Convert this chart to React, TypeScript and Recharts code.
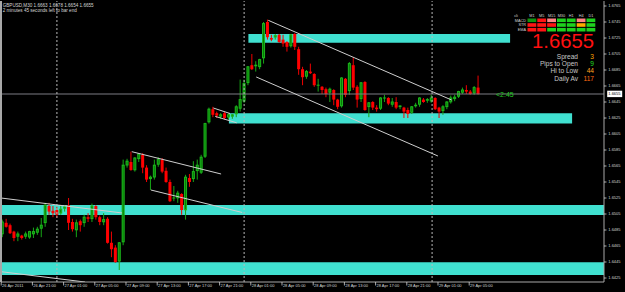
import React from 'react';
import { ComposedChart, Bar, XAxis, YAxis, ReferenceArea, ReferenceLine } from 'recharts';

const symbolTitle = 'GBPUSD,M30  1.6663 1.6678 1.6654 1.6655';
const timerText = '2 minutes 45 seconds left to bar end';
const countdown = '<2:45';

// 30-minute candles, 26 Apr 2011 17:00 -> 29 Apr 2011 06:00
const opens = [
  1.6479, 1.6494, 1.6491, 1.6483, 1.6476, 1.6478, 1.6476, 1.6475, 1.6479, 1.6481,
  1.6486, 1.6493, 1.6515, 1.6509, 1.6510, 1.6505, 1.6511, 1.6516, 1.6495, 1.6484,
  1.6496, 1.6493, 1.6501, 1.6498, 1.6515, 1.6501, 1.6494, 1.6499, 1.6469, 1.6463,
  1.6445, 1.6469, 1.6565, 1.6570, 1.6559, 1.6573, 1.6579, 1.6563, 1.6548, 1.6550,
  1.6566, 1.6573, 1.6559, 1.6545, 1.6524, 1.6524, 1.6530, 1.6509, 1.6550, 1.6548,
  1.6558, 1.6556, 1.6576, 1.6619, 1.6636, 1.6631, 1.6626, 1.6631, 1.6625, 1.6626,
  1.6629, 1.6636, 1.6645, 1.6668, 1.6691, 1.6689, 1.6688, 1.6699, 1.6745, 1.6725,
  1.6725, 1.6729, 1.6723, 1.6720, 1.6714, 1.6730, 1.6711, 1.6686, 1.6676, 1.6683,
  1.6680, 1.6665, 1.6664, 1.6661, 1.6656, 1.6660, 1.6648, 1.6639, 1.6674, 1.6658,
  1.6691, 1.6664, 1.6648, 1.6670, 1.6638, 1.6645, 1.6638, 1.6636, 1.6649, 1.6650,
  1.6641, 1.6645, 1.6638, 1.6638, 1.6635, 1.6631, 1.6639, 1.6641, 1.6648, 1.6646,
  1.6645, 1.6650, 1.6638, 1.6633, 1.6638, 1.6644, 1.6648, 1.6651, 1.6656, 1.6660,
  1.6658, 1.6655, 1.6663,
];
const highs = [
  1.6498, 1.6499, 1.6493, 1.6484, 1.6483, 1.6479, 1.6483, 1.6484, 1.6488, 1.6489,
  1.6500, 1.6519, 1.6519, 1.6515, 1.6514, 1.6515, 1.6516, 1.6525, 1.6499, 1.6498,
  1.6498, 1.6504, 1.6506, 1.6518, 1.6516, 1.6503, 1.6506, 1.6501, 1.6483, 1.6466,
  1.6470, 1.6573, 1.6574, 1.6583, 1.6576, 1.6581, 1.6581, 1.6566, 1.6553, 1.6573,
  1.6576, 1.6575, 1.6563, 1.6548, 1.6540, 1.6534, 1.6531, 1.6554, 1.6555, 1.6571,
  1.6573, 1.6579, 1.6619, 1.6638, 1.6639, 1.6633, 1.6631, 1.6633, 1.6631, 1.6630,
  1.6641, 1.6673, 1.6673, 1.6690, 1.6705, 1.6696, 1.6699, 1.6745, 1.6748, 1.6729,
  1.6730, 1.6730, 1.6729, 1.6721, 1.6730, 1.6731, 1.6714, 1.6689, 1.6685, 1.6693,
  1.6681, 1.6674, 1.6665, 1.6663, 1.6663, 1.6661, 1.6649, 1.6676, 1.6675, 1.6695,
  1.6701, 1.6666, 1.6670, 1.6671, 1.6645, 1.6646, 1.6641, 1.6651, 1.6654, 1.6651,
  1.6650, 1.6651, 1.6641, 1.6639, 1.6638, 1.6640, 1.6644, 1.6651, 1.6650, 1.6650,
  1.6654, 1.6651, 1.6639, 1.6641, 1.6646, 1.6653, 1.6654, 1.6659, 1.6663, 1.6666,
  1.6660, 1.6665, 1.6678,
];
const lows = [
  1.6476, 1.6488, 1.6480, 1.6471, 1.6471, 1.6473, 1.6474, 1.6474, 1.6475, 1.6479,
  1.6476, 1.6489, 1.6504, 1.6501, 1.6500, 1.6504, 1.6508, 1.6485, 1.6483, 1.6476,
  1.6483, 1.6489, 1.6495, 1.6495, 1.6498, 1.6491, 1.6491, 1.6468, 1.6451, 1.6444,
  1.6435, 1.6466, 1.6563, 1.6559, 1.6558, 1.6570, 1.6556, 1.6545, 1.6535, 1.6548,
  1.6564, 1.6556, 1.6544, 1.6520, 1.6521, 1.6519, 1.6504, 1.6498, 1.6539, 1.6545,
  1.6548, 1.6555, 1.6575, 1.6618, 1.6626, 1.6625, 1.6624, 1.6623, 1.6623, 1.6624,
  1.6626, 1.6633, 1.6644, 1.6666, 1.6685, 1.6683, 1.6686, 1.6693, 1.6723, 1.6721,
  1.6723, 1.6719, 1.6714, 1.6708, 1.6713, 1.6710, 1.6679, 1.6666, 1.6674, 1.6680,
  1.6664, 1.6658, 1.6655, 1.6651, 1.6645, 1.6641, 1.6636, 1.6638, 1.6651, 1.6654,
  1.6660, 1.6638, 1.6645, 1.6634, 1.6626, 1.6635, 1.6633, 1.6635, 1.6645, 1.6641,
  1.6639, 1.6636, 1.6636, 1.6625, 1.6625, 1.6630, 1.6638, 1.6639, 1.6644, 1.6644,
  1.6644, 1.6635, 1.6625, 1.6629, 1.6636, 1.6643, 1.6646, 1.6650, 1.6655, 1.6655,
  1.6654, 1.6654, 1.6654,
];
const closes = [
  1.6495, 1.6489, 1.6481, 1.6475, 1.6480, 1.6475, 1.6480, 1.6483, 1.6483, 1.6486,
  1.6491, 1.6516, 1.6508, 1.6506, 1.6504, 1.6511, 1.6514, 1.6494, 1.6486, 1.6494,
  1.6491, 1.6501, 1.6499, 1.6515, 1.6501, 1.6495, 1.6498, 1.6469, 1.6461, 1.6445,
  1.6469, 1.6566, 1.6571, 1.6560, 1.6575, 1.6580, 1.6563, 1.6548, 1.6551, 1.6566,
  1.6573, 1.6558, 1.6545, 1.6521, 1.6525, 1.6531, 1.6510, 1.6551, 1.6545, 1.6558,
  1.6566, 1.6576, 1.6618, 1.6636, 1.6629, 1.6628, 1.6629, 1.6625, 1.6629, 1.6629,
  1.6639, 1.6648, 1.6668, 1.6689, 1.6686, 1.6691, 1.6698, 1.6743, 1.6726, 1.6723,
  1.6728, 1.6720, 1.6718, 1.6714, 1.6729, 1.6714, 1.6686, 1.6676, 1.6683, 1.6681,
  1.6666, 1.6666, 1.6660, 1.6655, 1.6661, 1.6648, 1.6639, 1.6675, 1.6654, 1.6693,
  1.6663, 1.6648, 1.6669, 1.6635, 1.6644, 1.6638, 1.6636, 1.6650, 1.6650, 1.6643,
  1.6645, 1.6638, 1.6640, 1.6633, 1.6630, 1.6639, 1.6641, 1.6650, 1.6645, 1.6648,
  1.6650, 1.6636, 1.6633, 1.6639, 1.6645, 1.6650, 1.6651, 1.6658, 1.6660, 1.6658,
  1.6655, 1.6663, 1.6655,
];

const xTickIndex = [0, 8, 16, 24, 32, 40, 48, 56, 64, 72, 80, 88, 96, 104, 112, 120];
const xTickLabels = [
  '26 Apr 2011', '26 Apr 21:00', '27 Apr 01:00', '27 Apr 05:00', '27 Apr 09:00',
  '27 Apr 13:00', '27 Apr 17:00', '27 Apr 21:00', '28 Apr 01:00', '28 Apr 05:00',
  '28 Apr 09:00', '28 Apr 13:00', '28 Apr 17:00', '28 Apr 21:00', '29 Apr 01:00',
  '29 Apr 05:00',
];
const yTickValues = [
  1.6765, 1.6745, 1.6725, 1.6705, 1.6685, 1.6665, 1.6645, 1.6625, 1.6605,
  1.6585, 1.6565, 1.6545, 1.6525, 1.6505, 1.6485, 1.6465, 1.6445, 1.6425,
];
const bidPrice = 1.6655;

// bar index (x) and price (y) of drawn objects
const zoneX1 = [63.0, 58.0, -0.436, -0.436];
const zoneX2 = [130.1, 146.0, 154.18, 154.18];
const zoneLow = [1.6719, 1.66181, 1.65038, 1.64288];
const zoneHigh = [1.6730, 1.6631, 1.65163, 1.64446];

const trendX1 = [68.1, 65.0, 33.1, 38.0, -0.436, -0.436, 54.0, 54.5];
const trendP1 = [1.67471, 1.66763, 1.65829, 1.6535, 1.6525, 1.64329, 1.66375, 1.6627];
const trendX2 = [115.1, 111.6, 56.0, 61.4, 30.6, 21.1, 58.3, 60.0];
const trendP2 = [1.66475, 1.65775, 1.6555, 1.65069, 1.65063, 1.642, 1.66306, 1.6619];

const daySeparators = [13.9, 61.9, 110.1];

const timeframes = ['M1', 'M5', 'M15', 'M30', 'H1', 'H4', 'D1'];
const signalRows = ['MACD', 'STR', 'EMA'];
const signalMACD = ['g', 'r', 's', 'l', 'l', 's', 'l'];
const signalSTR = ['r', 'r', 'r', 'l', 'l', 'o', 'l'];
const signalEMA = ['r', 'r', 'l', 'l', 'l', 'l', 'l'];
const statLabels = ['Spread', 'Pips to Open', 'Hi to Low', 'Daily Av'];
const statValues = ['3', '9', '44', '117'];

const X_DOMAIN: [number, number] = [-0.436, 154.18];
const Y_DOMAIN: [number, number] = [1.642, 1.677125];

const TEXT = '#D4D4D4';
const FRAME = '#A8A8A8';
const CYAN = '#40E0D0';
const FONT = '"Liberation Sans", Arial, sans-serif';
const signalColor: Record<string, string> = {
  g: '#0E930E', r: '#FF1414', s: '#FF8484', l: '#1ED21E', o: '#FFAA00',
};
const statColors = ['#FFA500', '#22DD22', '#FFA520', '#FF6A10'];

const data = opens.map((o, i) => ({
  i,
  open: o,
  high: highs[i],
  low: lows[i],
  close: closes[i],
  range: [lows[i], highs[i]],
}));

const Candle = (props: any) => {
  const { x, y, width, height, payload } = props;
  if (x == null || y == null || !payload) return null;
  const { open, close, high, low } = payload;
  const cx = x + width / 2;
  const k = high > low ? height / (high - low) : 0;
  const top = y + (high - Math.max(open, close)) * k;
  const bot = y + (high - Math.min(open, close)) * k;
  const up = close >= open;
  const h = Math.max(1, bot - top);
  return (
    <g>
      <line x1={cx} x2={cx} y1={y} y2={y + height} stroke={up ? '#16A616' : '#F00000'} strokeWidth={1} />
      {up ? (
        <rect x={cx - 1} y={top} width={2} height={Math.max(0.01, h - 1)} fill="#067A06" stroke="#1CB81C" strokeWidth={1} />
      ) : (
        <rect x={cx - 1.5} y={top} width={3} height={h} fill="#FF0000" />
      )}
    </g>
  );
};

const XTick = (props: any) => {
  const { x, y, payload } = props;
  const k = xTickIndex.indexOf(payload.value);
  const label = k >= 0 ? xTickLabels[k] : '';
  return (
    <g>
      <line x1={x - 1.5} x2={x - 1.5} y1={y} y2={y + 3.5} stroke={TEXT} strokeWidth={0.8} />
      <text x={x - 0.6} y={y + 5.2} fontSize={4} fill={TEXT} fontFamily={FONT}>{label}</text>
    </g>
  );
};

const YTick = (props: any) => {
  const { x, y, payload } = props;
  const v = payload.value;
  if (Math.abs(v - bidPrice) < 1e-9) {
    return (
      <g>
        <rect x={x + 3.2} y={y - 3.3} width={15} height={6.4} fill="#FFFFFF" />
        <text x={x + 4.3} y={y + 1.4} fontSize={4} fill="#000000" fontFamily={FONT}>{v.toFixed(4)}</text>
      </g>
    );
  }
  return (
    <g>
      <line x1={x} x2={x + 2.5} y1={y} y2={y} stroke={TEXT} strokeWidth={0.8} />
      <text x={x + 4.3} y={y + 1.4} fontSize={4} fill={TEXT} fontFamily={FONT}>{v.toFixed(4)}</text>
    </g>
  );
};

const cellLeft = [527.5, 537.3, 547.2, 557.0, 566.8, 576.7, 586.5];
const rowTop = [18.5, 23.2, 27.9];

const Overlay = () => {
  const rows = [signalMACD, signalSTR, signalEMA];
  return (
    <svg width={625} height={292} style={{ position: 'absolute', left: 0, top: 0, pointerEvents: 'none' }}>
      <text x={2.7} y={7} fontSize={4.6} fill={TEXT} fontFamily={FONT}>{symbolTitle}</text>
      <text x={2.7} y={12.4} fontSize={4.6} fill={TEXT} fontFamily={FONT}>{timerText}</text>
      <text x={516} y={16.7} fontSize={3.8} fill={TEXT} fontFamily={FONT} textAnchor="middle">cli</text>
      {timeframes.map((tf, c) => (
        <text key={tf} x={cellLeft[c] + 4.4} y={16.7} fontSize={3.8} fill={TEXT} fontFamily={FONT} textAnchor="middle">{tf}</text>
      ))}
      {signalRows.map((name, r) => (
        <g key={name}>
          <text x={526} y={rowTop[r] + 3.2} fontSize={3.8} fill={TEXT} fontFamily={FONT} textAnchor="end">{name}</text>
          {rows[r].map((s, c) => (
            <rect key={c} x={cellLeft[c]} y={rowTop[r]} width={8.8} height={3.6} fill={signalColor[s]} />
          ))}
        </g>
      ))}
      <text x={594} y={48} fontSize={21} fill="#FF1010" fontFamily={FONT} textAnchor="end" textLength={62} lengthAdjust="spacingAndGlyphs">{bidPrice.toFixed(4)}</text>
      {statLabels.map((s, k) => (
        <g key={s}>
          <text x={578} y={58.6 + k * 7.3} fontSize={6.6} fill="#C8C8C8" fontFamily={FONT} textAnchor="end">{s}</text>
          <text x={594} y={58.6 + k * 7.3} fontSize={6.6} fill={statColors[k]} fontFamily={FONT} textAnchor="end">{statValues[k]}</text>
        </g>
      ))}
      <text x={496} y={96.6} fontSize={7} fill="#22CC22" fontFamily={FONT}>{countdown}</text>
    </svg>
  );
};

export default function App() {
  return (
    <div style={{ position: 'absolute', left: 0, top: 0, width: 625, height: 292, background: '#000', overflow: 'hidden' }}>
      <ComposedChart width={625} height={292} data={data} margin={{ top: 1, right: 0, bottom: 0, left: 1 }}>
        <XAxis
          dataKey="i"
          type="number"
          domain={X_DOMAIN}
          allowDataOverflow
          ticks={xTickIndex}
          interval={0}
          height={10}
          tickSize={0}
          tickMargin={0}
          tickLine={false}
          axisLine={{ stroke: FRAME, strokeWidth: 1 }}
          tick={(p: any) => <XTick {...p} />}
        />
        <YAxis
          orientation="right"
          type="number"
          domain={Y_DOMAIN}
          allowDataOverflow
          ticks={[...yTickValues, bidPrice]}
          interval={0}
          width={21}
          tickSize={0}
          tickMargin={0}
          tickLine={false}
          axisLine={{ stroke: FRAME, strokeWidth: 1 }}
          tick={(p: any) => <YTick {...p} />}
        />
        {zoneX1.map((x1, k) => (
          <ReferenceArea key={'z' + k} x1={x1} x2={zoneX2[k]} y1={zoneLow[k]} y2={zoneHigh[k]} fill={CYAN} fillOpacity={1} stroke="none" ifOverflow="hidden" />
        ))}
        <ReferenceLine y={bidPrice} stroke="#7C7C84" strokeWidth={1} ifOverflow="hidden" />
        <Bar dataKey="range" barSize={3} isAnimationActive={false} shape={(p: any) => <Candle {...p} />} />
        {daySeparators.map((d, k) => (
          <ReferenceLine key={'d' + k} x={d} stroke="#B8B8B8" strokeWidth={1} strokeDasharray="2 2" ifOverflow="hidden" />
        ))}
        {trendX1.map((x1, k) => (
          <ReferenceLine
            key={'t' + k}
            segment={[{ x: x1, y: trendP1[k] }, { x: trendX2[k], y: trendP2[k] }]}
            stroke="#CFCFCF"
            strokeWidth={1}
            ifOverflow="hidden"
          />
        ))}
        <ReferenceLine x={X_DOMAIN[0]} stroke={FRAME} strokeWidth={2} ifOverflow="visible" />
      </ComposedChart>
      <Overlay />
    </div>
  );
}
